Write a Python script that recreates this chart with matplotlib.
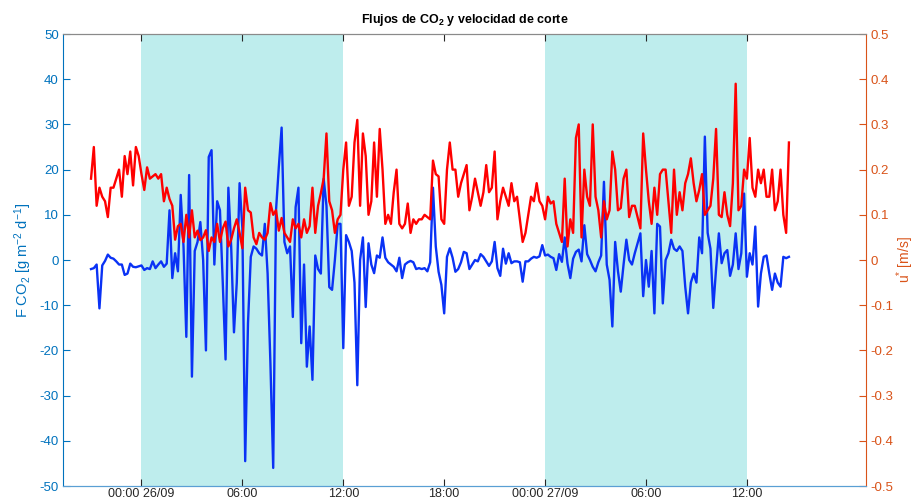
import matplotlib
matplotlib.use("Agg")
import matplotlib.pyplot as plt
import pandas as pd

# F CO2 [g m-2 d-1], 10 min data from 25/09 21:00
fco2 = [
    -2.0, -1.8, -1.0, -10.7, -1.2, -0.2, 1.2, 0.5, 0.3, -0.3, -1.0, -1.0, -3.3, -3.0, -0.8, -1.5, -1.6, -1.4, -1.2,
    -2.2, -1.8, -2.0, -0.3, -1.8, -1.0, -0.3, -1.5, -0.8, 11, -4, 1.5, -2.5, 14.4, 3,
    -17, 18.8, -25.8, 2, 4,
    8.4, 0, -20, 22.8, 24.3, -1, 13, 11, -5, -22, 16, 3, -16, -5, 17, 7, -44.5, -14, 0.7, 3,
    2.5, 1.5, 1, 8, -3, -22.8, -46, 11, 20.6, 29.3, 4, 1.5, 3, -12.6, 11.7, 16, -18.4, -1,
    -23.6, -14.7, -26.5, 1, -2, -3,
    18, 12, -6, -6.6, 0, 8, 8, -19.5, 5.5, 4, 2, -5, -27.7, 0, 5, -10.4, 3.7, -1, -2.9, 1,
    0.5, 5, 0.5, -0.5, -1, -1.5, -2.5, 0.5, -4, -1, -0.5, -0.2, -0.5, -2, -1.8, -2, -1.8, -2.5, -0.5, 16,
    3, -2.6, -5.5, -11.8, 0.7, 2.6, 0.5, -2.6, -2, -0.5, 1.8, 1.5, -2, -1, 0,
    -0.3, 1.3, 0.7, -0.3, -1.3, -0.3, 4, -1.8, -3.5, 2.5, -0.8, 1.5, -0.7, -0.3, -0.3, -0.5,
    -4.8, -0.3, -0.3, 0.3, 0.7, 0.5, 0.8, 3.3, 1, 1.2, 0.7, 0.4, -2.2, 1.3, -0.4, 5,
    -0.8, -4, 0.3, 1.8, 2.3, -0.3, 7.7, 1.3, 0, -1.5, -2.5, -0.5, 1, 17.3, -1, -4.4,
    -14.7, 4, -2.5, -7, -1, 4.5, 0, -1, 1.5, 3.7, 5.9, -8, 0, -5.9, 2, -11.8,
    8, 7.4, -9.6, 0, 1.5, 4.5, 2.5, 2, 3, 2, -5.9, -11.8, -5, -3, -5, 5,
    1.5, 27.3, 6, 2.5, -10.6, -2, 5.9, -0.7, 1.5, 2.2, -3.5, -1, 5.9, -2, 1.5, 14.7,
    -3.7, 1.5, -1, 7.4, -10.3, -3, 0.7, 1, -3, -6.6, -3, -5, -5.9, 0.7, 0.4, 0.7,
]

# u* [m/s]
ustar = [
    0.18, 0.25, 0.12, 0.16, 0.14, 0.13, 0.095, 0.16, 0.16, 0.18, 0.20, 0.14, 0.23, 0.19, 0.24, 0.165, 0.25, 0.23, 0.19,
    0.155, 0.205, 0.18, 0.185, 0.19, 0.18, 0.19, 0.13, 0.16, 0.135, 0.12, 0.045, 0.075, 0.08, 0.04, 0.10, 0.05, 0.11, 0.05, 0.065,
    0.044, 0.05, 0.066, 0.02, 0.05, 0.04, 0.08, 0.04, 0.07, 0.085, 0.03, 0.045, 0.07, 0.09, 0.06, 0.026, 0.16, 0.11, 0.105, 0.05,
    0.035, 0.06, 0.05, 0.045, 0.06, 0.126, 0.10, 0.11, 0.065, 0.093, 0.06, 0.05, 0.04, 0.09, 0.07, 0.08, 0.05, 0.09, 0.06, 0.075, 0.16,
    0.06, 0.12, 0.148, 0.18, 0.28, 0.13, 0.11, 0.06, 0.09, 0.1, 0.2, 0.26, 0.12, 0.14, 0.26, 0.31, 0.12, 0.28, 0.23, 0.1,
    0.13, 0.26, 0.14, 0.29, 0.2, 0.08, 0.1, 0.08, 0.15, 0.2, 0.08, 0.07, 0.08, 0.125, 0.06, 0.09, 0.08, 0.09, 0.09, 0.1, 0.095, 0.09, 0.22,
    0.19, 0.185, 0.09, 0.08, 0.2, 0.26, 0.2, 0.2, 0.14, 0.17, 0.19, 0.21, 0.11, 0.14, 0.18,
    0.15, 0.12, 0.15, 0.21, 0.15, 0.16, 0.24, 0.09, 0.13, 0.16, 0.14, 0.12, 0.17, 0.13, 0.14, 0.09,
    0.04, 0.06, 0.1, 0.14, 0.13, 0.17, 0.13, 0.12, 0.09, 0.14, 0.125, 0.13, 0.08, 0.06, 0.04, 0.18,
    0.03, 0.09, 0.06, 0.27, 0.3, 0.05, 0.2, 0.14, 0.12, 0.3, 0.14, 0.11, 0.05, 0.13, 0.09, 0.11,
    0.24, 0.2, 0.11, 0.115, 0.18, 0.2, 0.095, 0.12, 0.12, 0.095, 0.07, 0.28, 0.2, 0.13, 0.08, 0.16,
    0.1, 0.19, 0.2, 0.2, 0.13, 0.06, 0.2, 0.1, 0.15, 0.11, 0.17, 0.19, 0.225, 0.17, 0.13, 0.155,
    0.19, 0.1, 0.11, 0.12, 0.18, 0.29, 0.1, 0.095, 0.15, 0.1, 0.075, 0.17, 0.39, 0.11, 0.12, 0.2,
    0.18, 0.27, 0.16, 0.14, 0.2, 0.17, 0.2, 0.14, 0.14, 0.2, 0.11, 0.13, 0.2, 0.1, 0.06, 0.26,
]

t_start = "2019-09-25 21:00"
x_limits = ["2019-09-25 19:20", "2019-09-27 19:05"]
day_periods = [("2019-09-26 00:00", "2019-09-26 12:00"), ("2019-09-27 00:00", "2019-09-27 12:00")]
tick_times = ["2019-09-26 00:00", "2019-09-26 06:00", "2019-09-26 12:00", "2019-09-26 18:00",
              "2019-09-27 00:00", "2019-09-27 06:00", "2019-09-27 12:00"]
tick_labels = ["00:00 26/09", "06:00", "12:00", "18:00", "00:00 27/09", "06:00", "12:00"]
left_ticks = [-50, -40, -30, -20, -10, 0, 10, 20, 30, 40, 50]
right_ticks = [-0.5, -0.4, -0.3, -0.2, -0.1, 0, 0.1, 0.2, 0.3, 0.4, 0.5]

time = pd.date_range(t_start, periods=len(fco2), freq="10min")
time_u = pd.date_range(t_start, periods=len(ustar), freq="10min")

plt.rcParams["font.family"] = ["Liberation Sans", "DejaVu Sans"]
plt.rcParams["mathtext.default"] = "regular"
plt.rcParams["axes.unicode_minus"] = False

c_left = "#0072BD"
c_right = "#D95319"
c_dark = "#262626"

fig = plt.figure(figsize=(9.17, 5.04), dpi=100)
ax1 = fig.add_axes([0.0687, 0.0357, 0.8757, 0.8968])
ax2 = ax1.twinx()

# shaded day periods (00:00 - 12:00)
for a, b in day_periods:
    ax1.axvspan(pd.Timestamp(a), pd.Timestamp(b), color="#BEEDED", lw=0, zorder=0)

ax1.plot(time, fco2, color="#0A32F5", lw=1.7, zorder=2)
ax2.plot(time_u, ustar, color="#FF0000", lw=1.7)

ax1.set_ylim(-50, 50)
ax1.set_yticks(left_ticks)
ax1.set_yticklabels([str(v) for v in left_ticks])
ax2.set_ylim(-0.5, 0.5)
ax2.set_yticks(right_ticks)
ax2.set_yticklabels(["%g" % v for v in right_ticks])
ax1.set_xlim(pd.Timestamp(x_limits[0]), pd.Timestamp(x_limits[1]))
ax1.set_xticks([pd.Timestamp(s) for s in tick_times])
ax1.set_xticklabels(tick_labels)

ax1.tick_params(axis="x", direction="in", length=5, colors=c_dark, labelsize=9, top=True, pad=1.5)
ax1.tick_params(axis="y", direction="in", length=5, colors=c_left, labelsize=9.5, pad=3)
ax2.tick_params(axis="y", direction="in", length=5, colors=c_right, labelsize=9.5, pad=3)

ax1.spines["left"].set_color(c_left)
ax2.spines["left"].set_visible(False)
ax2.spines["right"].set_color(c_right)
for ax in (ax1, ax2):
    ax.spines["top"].set_color("#8a8a8a")
    ax.spines["bottom"].set_color("#5a9fd4")
ax1.spines["right"].set_visible(False)

ax1.set_ylabel("F CO$_2$ [g m$^{-2}$ d$^{-1}$]", color=c_left, fontsize=10.5, labelpad=4)
ax2.set_ylabel("u$^{*}$ [m/s]", color=c_right, fontsize=10, labelpad=1, rotation=90)
ax1.set_title("Flujos de CO$_2$ y velocidad de corte", fontsize=9, fontweight="bold", color="black", pad=8)

fig.savefig("out.png", dpi=100)
